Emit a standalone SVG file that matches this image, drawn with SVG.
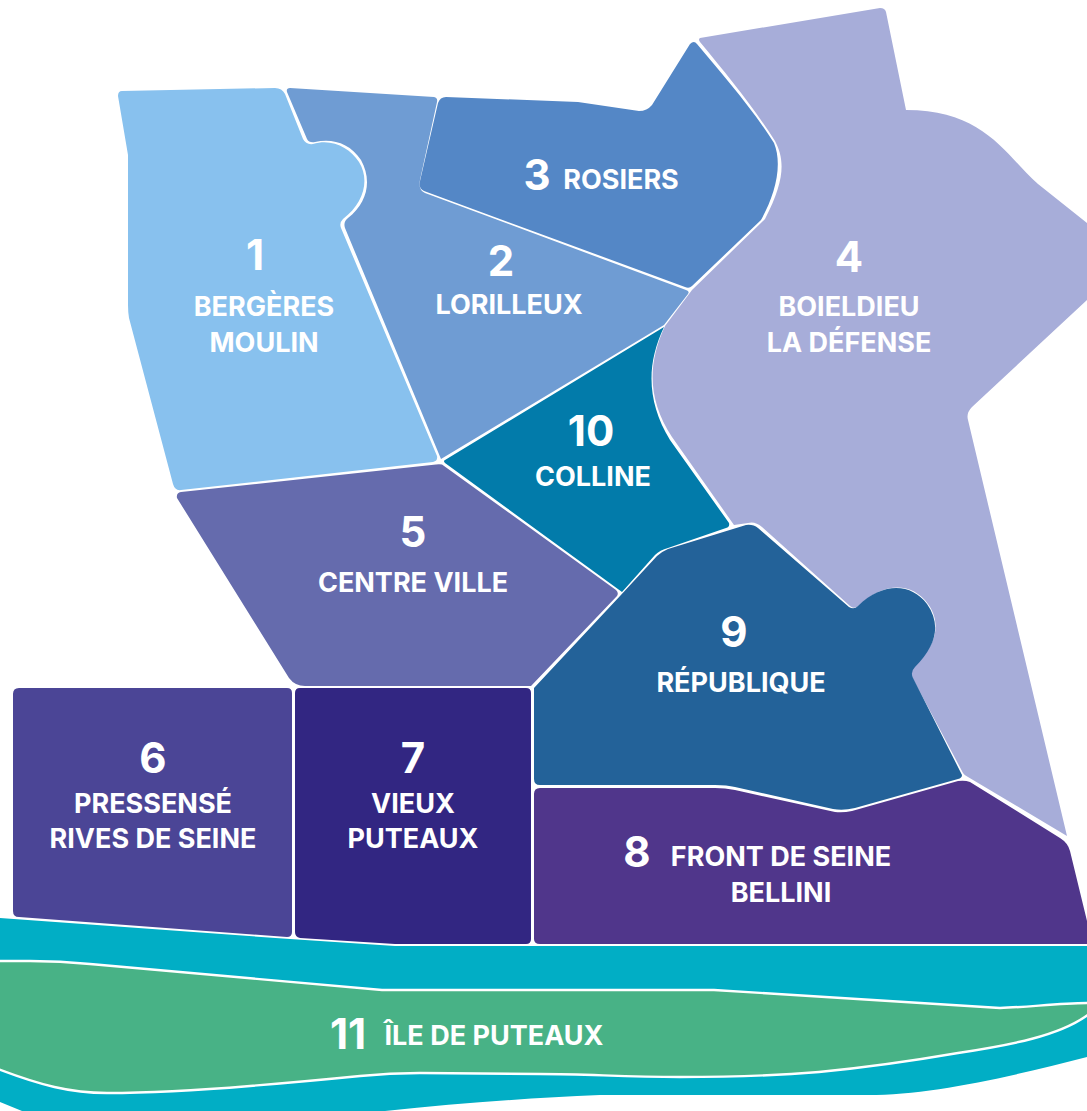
<svg xmlns="http://www.w3.org/2000/svg" width="1087" height="1111" viewBox="0 0 1087 1111">
<style>
.z{stroke:none}
.n{font-family:Inter,"Liberation Sans",sans-serif;font-weight:700;font-size:42px;fill:#fff;text-anchor:middle}
.l{font-family:Inter,"Liberation Sans",sans-serif;font-weight:700;font-size:27px;fill:#fff;text-anchor:middle}
.e{stroke:#fff;stroke-width:2.4;stroke-linejoin:round}
</style>
<rect width="1087" height="1111" fill="#fff"/>
<path id="water" fill="#01AEC5" d="M0 918L290 939L395 946H1087V1057C1010 1077 930 1095 868 1095H600C530 1098 460 1103 385 1111H22L0 1102Z"/>
<g id="zone11">
<path class="e" fill="#48B286" d="M-2 961H30C50 961 70 962 90 964C190 972 290 982 382 990H714L1000 1008C1030 1007 1060 1003 1089 1003V1014C1060 1036 1010 1045 958 1053C900 1063 850 1069 819 1072C770 1076 720 1077 680 1077C620 1077 590 1074 540 1074L420 1073C400 1073 380 1074 360 1076C320 1080 286 1083 250 1086C190 1091 140 1093 107 1093C70 1093 40 1085 -2 1069Z"/>
<text class="n" x="348" y="1049">11</text>
<text class="l" x="494" y="1045">ÎLE DE PUTEAUX</text>
</g>
<g id="zone1">
<path class="z" fill="#88C1EE" d="M122 91L275 88Q282 88 285 94L303 139Q306 145 313 144C332 138 350 148 359 162C370 180 364 203 343 219Q339 223 341 228L437 456Q438 461 433 462L181 490Q175 491 173 484L129 318Q128 312 128 305V155L118 96Q118 91 122 91Z"/>
<text class="n" x="255" y="270">1</text>
<text class="l" x="264" y="316">BERGÈRES</text>
<text class="l" x="264" y="352">MOULIN</text>
</g>
<g id="zone2">
<path class="z" fill="#6F9CD3" d="M290 88L434 97Q438 98 437 102L420 180Q418 190 425 193L686 290Q690 291 688 294L664 325L441 459L345 228Q343 222 348 218C368 202 372 180 361 160C350 143 332 138 315 142Q309 143 307 139L287 92Q286 88 290 88Z"/>
<text class="n" x="501" y="276">2</text>
<text class="l" x="509" y="314">LORILLEUX</text>
</g>
<g id="zone3">
<path class="z" fill="#5487C6" d="M446 97L578 102L639 111Q647 111 652 105L690 44Q694 40 697 44C722 74 752 108 774 143C783 165 775 195 761 220L692 286Q689 289 685 287L424 191Q418 188 420 181L438 103Q440 97 446 97Z"/>
<text class="n" x="537" y="190">3</text>
<text class="l" x="621" y="189">ROSIERS</text>
</g>
<g id="zone4">
<path class="z" fill="#A7ADD9" d="M700 38L880 8Q885 8 886 12L906 110C985 110 1005 155 1038 184L1087 223V300L972 407Q966 413 968 420L1067 836L968 777Q964 775 963 773L912 677Q909 671 914 666C938 644 941 622 928 604C912 582 884 582 860 605Q854 610 850 606L762 527Q755 521 748 523L734 525L672 437C648 400 647 365 665 326L692 290L765 219C785 180 785 160 775 141C752 105 728 76 700 42Q698 39 700 38Z"/>
<text class="n" x="849" y="272">4</text>
<text class="l" x="849" y="316">BOIELDIEU</text>
<text class="l" x="849" y="352">LA DÉFENSE</text>
</g>
<g id="zone5">
<path class="z" fill="#656BAD" d="M181 492L436 464.5Q439 464 442 464.5L616 590Q619 593 617 596L531 686H305Q295 686 289 678L177 498Q176 493 181 492Z"/>
<text class="n" x="413" y="547">5</text>
<text class="l" x="413" y="592">CENTRE VILLE</text>
</g>
<g id="zone6">
<path class="z" fill="#4B4596" d="M19 688H287Q292 688 292 693V932Q292 937 287 937L19 917Q13 917 13 911V694Q13 688 19 688Z"/>
<text class="n" x="153" y="773">6</text>
<text class="l" x="153" y="813">PRESSENSÉ</text>
<text class="l" x="153" y="848">RIVES DE SEINE</text>
</g>
<g id="zone7">
<path class="z" fill="#322682" d="M300 688H526Q531 688 531 693V939Q531 944 526 944H395L300 938Q295 937 295 932V693Q295 688 300 688Z"/>
<text class="n" x="413" y="773">7</text>
<text class="l" x="413" y="813">VIEUX</text>
<text class="l" x="413" y="848">PUTEAUX</text>
</g>
<g id="zone8">
<path class="z" fill="#50368B" d="M540 788H715Q725 788 735 790L835 812Q843 813 852 811L958 781Q965 780 970 782L1060 838Q1068 843 1070 851L1087 921V944H540Q534 944 534 939V794Q534 788 540 788Z"/>
<text class="n" x="637" y="867">8</text>
<text class="l" x="781" y="866">FRONT DE SEINE</text>
<text class="l" x="781" y="902">BELLINI</text>
</g>
<g id="zone9">
<path class="z" fill="#236299" d="M534 688L620 596L657 556Q661 552 668 549L746 525Q753 524 758 528L849 607Q854 610 858 606C884 581 912 584 927 604C941 624 937 645 915 667Q910 672 913 678L962 775Q962 778 958 779L855 808Q843 811 833 809L735 787Q727 785 715 785H540Q534 785 534 779Z"/>
<text class="n" x="734" y="647">9</text>
<text class="l" x="741" y="692">RÉPUBLIQUE</text>
</g>
<g id="zone10">
<path class="z" fill="#027BAA" d="M664 327C646 365 647 402 670 440L729 523Q730 527 726 528L668 548Q660 550 655 555L622 592L445 463Q443 461 445 460Z"/>
<text class="n" x="591" y="446">10</text>
<text class="l" x="593" y="486">COLLINE</text>
</g>
</svg>
